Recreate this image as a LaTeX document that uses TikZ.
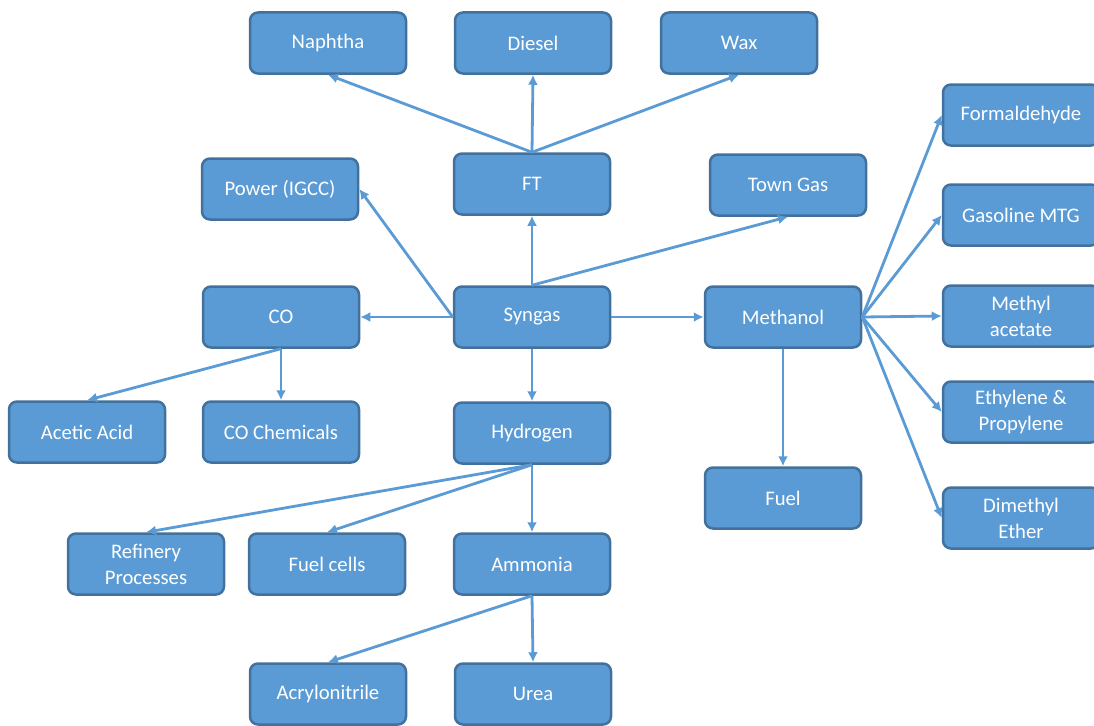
\documentclass[tikz,border=0pt]{standalone}
\usepackage{fontspec}
\setmainfont{Carlito}
\usetikzlibrary{arrows.meta}
\definecolor{boxblue}{RGB}{91,155,213}
\definecolor{edgeblue}{RGB}{65,113,156}
\begin{document}
\begin{tikzpicture}[x=1pt, y=-1pt,
  prod/.style={draw=edgeblue, line width=2.5pt, fill=boxblue, rounded corners=8pt,
    minimum width=156pt, minimum height=61pt, text=white, align=center,
    font=\fontsize{20.7}{26}\selectfont, inner sep=0pt},
  link/.style={color=boxblue, line width=2.8pt, -{Latex[length=10pt,width=10pt]}}]
  \useasboundingbox (0,0) rectangle (1094,725);
  % top row
  \node[prod] (naph) at (328,43) {Naphtha};
  \node[prod] (dies) at (533,43) {Diesel};
  \node[prod] (wax) at (739,43) {Wax};
  \node[prod] (ft) at (532,184) {FT};
  \node[prod] (pow) at (280,189) {Power (IGCC)};
  \node[prod] (town) at (788,185) {Town Gas};
  % middle row
  \node[prod] (syn) at (532,317) {Syngas};
  \node[prod] (co) at (281,317) {CO};
  \node[prod] (meth) at (783,317) {Methanol};
  \node[prod] (acet) at (87,432) {Acetic Acid};
  \node[prod] (cochem) at (281,432) {CO Chemicals};
  \node[prod] (hyd) at (532,433) {Hydrogen};
  \node[prod] (fuel) at (783,498) {Fuel};
  % bottom rows
  \node[prod] (ref) at (146,564) {Refinery\\Processes};
  \node[prod] (cell) at (327,564) {Fuel cells};
  \node[prod] (amm) at (532,564) {Ammonia};
  \node[prod] (acry) at (328,694) {Acrylonitrile};
  \node[prod] (urea) at (533,694) {Urea};
  % methanol products
  \node[prod] (form) at (1021,115) {Formaldehyde};
  \node[prod] (mtg) at (1021,215) {Gasoline MTG};
  \node[prod] (macet) at (1021,316) {Methyl\\acetate};
  \node[prod] (ethy) at (1021,412) {Ethylene \&\\Propylene};
  \node[prod] (dme) at (1021,518) {Dimethyl\\Ether};

  \path[link] (ft.north) edge (naph.south) edge (dies.south) edge (wax.south);
  \path[link] (syn.north) edge (ft.south) edge (town.south);
  \path[link] (syn.west) edge (pow.east) edge (co.east);
  \path[link] (syn.east) edge (meth.west);
  \path[link] (syn.south) edge (hyd.north);
  \path[link] (co.south) edge (acet.north) edge (cochem.north);
  \path[link] (hyd.south) edge (ref.north) edge (cell.north) edge (amm.north);
  \path[link] (amm.south) edge (acry.north) edge (urea.north);
  \path[link] (meth.south) edge (fuel.north);
  \path[link] (meth.east) edge (form.west) edge (mtg.west) edge (macet.west)
    edge (ethy.west) edge (dme.west);
\end{tikzpicture}
\end{document}
